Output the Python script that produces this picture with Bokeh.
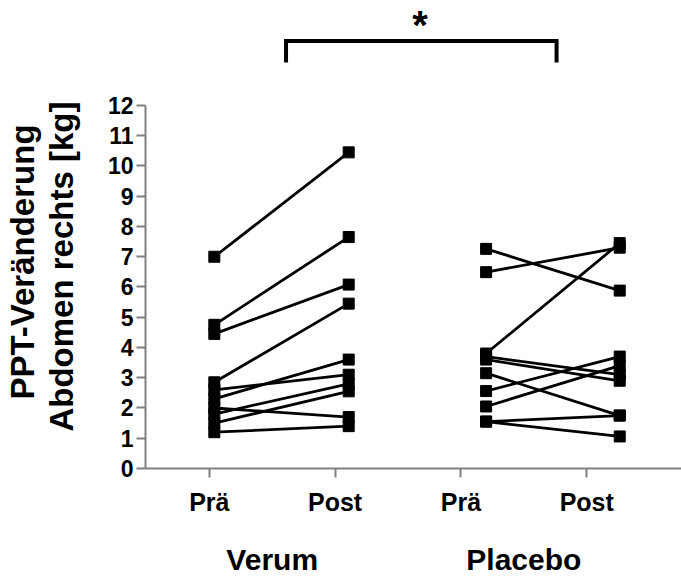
from bokeh.plotting import figure
from bokeh.models import Range1d, FixedTicker, Label, LinearAxis
from bokeh.embed import file_html
from bokeh.resources import INLINE

# ---- data ----
tick_positions = [1, 2, 3, 4]
tick_labels = ["Prä", "Post", "Prä", "Post"]
group_labels = ["Verum", "Placebo"]
group_centers = [1.5, 3.5]
verum_x = [1.04, 2.108]
placebo_x = [3.20, 4.262]
verum_pre = [7.0, 4.75, 4.45, 2.85, 2.6, 2.3, 2.0, 1.8, 1.5, 1.2]
verum_post = [10.45, 7.65, 6.08, 5.45, 3.1, 3.6, 1.7, 2.8, 2.55, 1.4]
placebo_pre = [7.26, 6.49, 3.8, 3.7, 3.6, 3.15, 2.56, 2.05, 1.55, 1.55]
placebo_post = [5.88, 7.3, 7.45, 3.1, 2.9, 1.75, 3.7, 3.4, 1.75, 1.06]
y_ticks = list(range(0, 13))
y_title = ["PPT-Veränderung", "Abdomen rechts [kg]"]
bracket_x = [1.61, 3.76]
bracket_y = [13.42, 14.13]
sig_text = "*"

FONT = "Liberation Sans"
AX = "#808080"
NBSP = "\u00a0"

p = figure(width=681, height=578, output_backend="svg", toolbar_location=None,
           x_range=Range1d(0.493, 4.753), y_range=Range1d(0, 15.47),
           min_border_left=143, min_border_right=0, min_border_top=0,
           min_border_bottom=110)
p.outline_line_color = None
p.grid.visible = False
p.background_fill_color = "white"
p.border_fill_color = "white"

# x axis
xa = p.xaxis[0]
xa.ticker = FixedTicker(ticks=tick_positions)
xa.major_label_overrides = {t: l for t, l in zip(tick_positions, tick_labels)}
xa.minor_tick_line_color = None
xa.major_tick_in = 0
xa.major_tick_out = 9
xa.axis_line_color = AX
xa.axis_line_width = 2
xa.major_tick_line_color = AX
xa.major_tick_line_width = 2
xa.major_label_text_font = FONT
xa.major_label_text_font_style = "bold"
xa.major_label_text_font_size = "25px"
xa.major_label_text_color = "black"
xa.major_label_standoff = 10

# group labels as a second, bare axis below
ga = LinearAxis(ticker=FixedTicker(ticks=group_centers),
                major_label_overrides={c: g for c, g in zip(group_centers, group_labels)})
ga.axis_line_color = None
ga.major_tick_line_color = None
ga.minor_tick_line_color = None
ga.major_tick_in = 0
ga.major_tick_out = 0
ga.major_label_text_font = FONT
ga.major_label_text_font_style = "bold"
ga.major_label_text_font_size = "30px"
ga.major_label_text_color = "black"
ga.major_label_standoff = 24
p.add_layout(ga, "below")

# y axis
ya = p.yaxis[0]
ya.ticker = FixedTicker(ticks=y_ticks)
ya.bounds = (0, 12)
ya.minor_tick_line_color = None
ya.major_tick_in = 0
ya.major_tick_out = 9
ya.axis_line_color = AX
ya.axis_line_width = 2
ya.major_tick_line_color = AX
ya.major_tick_line_width = 2
ya.major_label_text_font = FONT
ya.major_label_text_font_style = "bold"
ya.major_label_text_font_size = "23px"
ya.major_label_text_color = "black"
ya.major_label_standoff = 3

# y title lines as bare axes stacked to the left
def title_axis(text, standoff):
    a = LinearAxis(ticker=FixedTicker(ticks=[]), axis_label=text)
    a.axis_line_color = None
    a.major_tick_line_color = None
    a.minor_tick_line_color = None
    a.major_tick_in = 0
    a.major_tick_out = 0
    a.major_label_standoff = 0
    a.axis_label_standoff = standoff
    a.axis_label_text_font = FONT
    a.axis_label_text_font_style = "bold"
    a.axis_label_text_font_size = "33px"
    a.axis_label_text_color = "black"
    return a

p.add_layout(title_axis(y_title[1] + NBSP * 7, 25), "left")
p.add_layout(title_axis(y_title[0] + NBSP * 6, -1), "left")

# lines & markers
def draw(xpos, pre, post):
    xs = [[xpos[0], xpos[1]] for _ in pre]
    ys = [[a, b] for a, b in zip(pre, post)]
    p.multi_line(xs, ys, line_color="black", line_width=2.8)
    p.scatter([xpos[0]] * len(pre), pre, marker="square", size=11,
              fill_color="black", line_color="black")
    p.scatter([xpos[1]] * len(post), post, marker="square", size=11,
              fill_color="black", line_color="black")

draw(verum_x, verum_pre, verum_post)
draw(placebo_x, placebo_pre, placebo_post)

# significance bracket
p.line([bracket_x[0], bracket_x[0], bracket_x[1], bracket_x[1]],
       [bracket_y[0], bracket_y[1], bracket_y[1], bracket_y[0]],
       line_color="black", line_width=4, line_join="miter")
p.add_layout(Label(x=(bracket_x[0] + bracket_x[1]) / 2 - 0.01, y=bracket_y[1] + 0.52,
                   text=sig_text, text_font=FONT, text_font_style="bold",
                   text_font_size="40px", text_color="black",
                   text_align="center", text_baseline="middle"))

open("out.html", "w").write(file_html(p, INLINE))
